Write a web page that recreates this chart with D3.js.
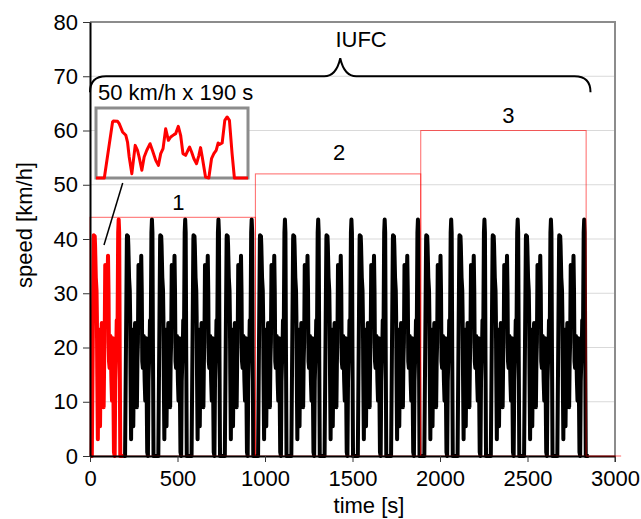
<!DOCTYPE html>
<html>
<head>
<meta charset="utf-8">
<script src="https://cdn.jsdelivr.net/npm/d3@7"></script>
<style>
  body { margin: 0; background: #fff; }
  text { font-family: "Liberation Sans", Arial, sans-serif; fill: #000; }
</style>
</head>
<body>
<svg id="chart" width="641" height="519"></svg>
<script>
// one 190 s cycle
let cycleTime  = [0, 10.4, 20.7, 21.6, 27, 29, 33.2, 37.3, 39.4, 41.5, 44.8, 49, 51.9, 53.9, 57.3,
                  60.2, 63.5, 67.6, 70.5, 74.7, 78, 80.9, 83.8, 87.1, 90.5, 93.4, 97.5, 99.6, 102.9,
                  105.8, 108.7, 112, 114.9, 117, 119.5, 122.4, 125.7, 128.6, 130.7, 132.8, 136.9, 141,
                  144.4, 147.3, 150.2, 152.7, 154.4, 157.7, 161, 163.9, 166.8, 170.1, 173, 190],
    cycleSpeed = [0, 0, 40, 40.7, 40.5, 38.8, 32.9, 30.5, 25.7, 15, 3.1, 23.3, 19.8, 15, 5.5,
                  15, 19.8, 24.5, 19.8, 12.6, 9, 17.4, 21, 35.2, 26.9, 29.3, 31, 31.7, 36.9,
                  30.5, 17.4, 16.2, 19.8, 22.1, 18.6, 13.8, 10.2, 16.2, 21.7, 15, 0.7, 0,
                  13.8, 17.4, 19.8, 25, 24, 25, 41.2, 43.6, 41.2, 17.4, 0, 0],
    cycleLength = 190,
    cycleCount = 15;

let phaseNames = ["1", "2", "3"],
    phaseStart = [0, 945, 1890],
    phaseEnd   = [945, 1890, 2835],
    phaseSpeed = [44, 52, 60],
    phaseTailEnd = 3035,
    phaseLabelTime  = [505, 1423, 2391],
    phaseLabelSpeed = [45.4, 54.6, 61.4];

let xTicks = [0, 500, 1000, 1500, 2000, 2500, 3000],
    yTicks = [0, 10, 20, 30, 40, 50, 60, 70, 80];

let braceStart = 0, braceEnd = 2860, braceLevel = 70;

let width = 641,
    height = 519,
    fontSize = 22,
    margins = {left: 90, right: 26, top: 22, bottom: 63};

let svg = d3.select("#chart");

let x = d3.scaleLinear().domain([0, 3000]).range([margins.left, width - margins.right]),
    y = d3.scaleLinear().domain([0, 80]).range([height - margins.bottom, margins.top]);

function cyclePoints(k) {
  return cycleTime.map((t, i) => [t + k * cycleLength, cycleSpeed[i]]);
}

// grid
svg.append("g")
  .selectAll("line")
  .data(yTicks.filter(d => d > 0 && d < 80)).enter()
  .append("line")
  .attr("x1", x(0)).attr("x2", x(3000))
  .attr("y1", d => y(d)).attr("y2", d => y(d))
  .attr("stroke", "#d9d9d9").attr("stroke-width", 1);

// frame top / right
svg.append("path")
  .attr("d", `M${x(0)},${y(80)}H${x(3000)}V${y(0) + 6}`)
  .attr("fill", "none").attr("stroke", "#8c8c8c").attr("stroke-width", 2);

let line = d3.line().x(d => x(d[0])).y(d => y(d[1]));

// black cycles 2..15
let black = [];
for (let k = 1; k < cycleCount; k++) black = black.concat(cyclePoints(k));
svg.append("path")
  .attr("d", line(black))
  .attr("fill", "none").attr("stroke", "#000").attr("stroke-width", 4)
  .attr("stroke-linejoin", "round");

// first cycle in red
svg.append("path")
  .attr("d", line(cyclePoints(0)))
  .attr("fill", "none").attr("stroke", "#ff0000").attr("stroke-width", 4)
  .attr("stroke-linejoin", "round");

// phase boxes
svg.append("g")
  .selectAll("rect")
  .data(phaseNames).enter()
  .append("rect")
  .attr("x", (d, i) => x(phaseStart[i]))
  .attr("y", (d, i) => y(phaseSpeed[i]))
  .attr("width", (d, i) => x(phaseEnd[i]) - x(phaseStart[i]))
  .attr("height", (d, i) => y(0) - y(phaseSpeed[i]))
  .attr("fill", "none").attr("stroke", "#ff0000").attr("stroke-opacity", 0.6);

// axes
let xAxis = svg.append("g")
  .attr("transform", `translate(0, ${y(0)})`)
  .call(d3.axisBottom(x).tickValues(xTicks).tickFormat(d3.format("d")).tickSize(6).tickSizeOuter(0));
let yAxis = svg.append("g")
  .attr("transform", `translate(${x(0)}, 0)`)
  .call(d3.axisLeft(y).tickValues(yTicks).tickFormat(d3.format("d")).tickSize(7).tickSizeOuter(0));

[xAxis, yAxis].forEach(a => {
  a.select(".domain").attr("stroke", "#000").attr("stroke-width", 2);
  a.selectAll(".tick line").attr("stroke", "#333");
  a.selectAll(".tick text").attr("font-size", fontSize).style("font-family", "Liberation Sans, Arial, sans-serif");
});
xAxis.selectAll(".tick text").attr("dy", "0.75em").attr("y", 13);
yAxis.selectAll(".tick text").attr("x", -12);

// tail of the phase line along the axis
svg.append("line")
  .attr("x1", x(phaseEnd[2])).attr("x2", x(phaseTailEnd))
  .attr("y1", y(0)).attr("y2", y(0))
  .attr("stroke", "#ff0000").attr("stroke-opacity", 0.6);

// phase labels
svg.append("g")
  .selectAll("text")
  .data(phaseNames).enter()
  .append("text")
  .attr("x", (d, i) => x(phaseLabelTime[i]))
  .attr("y", (d, i) => y(phaseLabelSpeed[i]))
  .attr("text-anchor", "middle").attr("font-size", fontSize)
  .text(d => d);

// brace
let bx0 = x(braceStart), bx1 = x(braceEnd), by = y(braceLevel),
    bm = (bx0 + bx1) / 2, r = 16, tip = 18;
svg.append("path")
  .attr("d", `M${bx0},${by + r} Q${bx0},${by} ${bx0 + r},${by} H${bm - r}` +
             ` Q${bm - 4},${by} ${bm},${by - tip} Q${bm + 4},${by} ${bm + r},${by}` +
             ` H${bx1 - r} Q${bx1},${by} ${bx1},${by + r}`)
  .attr("fill", "none").attr("stroke", "#000").attr("stroke-width", 2);

svg.append("text")
  .attr("x", x(1549)).attr("y", y(75.3))
  .attr("text-anchor", "middle").attr("font-size", fontSize)
  .text("IUFC");

svg.append("text")
  .attr("x", 98).attr("y", 100)
  .attr("font-size", fontSize)
  .text("50 km/h x 190 s");

// inset: one cycle, 50 km/h x 190 s
let ix = d3.scaleLinear().domain([0, cycleLength]).range([96, 248]),
    iy = d3.scaleLinear().domain([0, 50]).range([178, 108]);

svg.append("rect")
  .attr("x", ix(0)).attr("y", iy(50))
  .attr("width", ix(cycleLength) - ix(0)).attr("height", iy(0) - iy(50))
  .attr("fill", "#fff").attr("stroke", "#8c8c8c").attr("stroke-width", 3);

svg.append("path")
  .attr("d", d3.line().x(d => ix(d[0])).y(d => iy(d[1]))(cyclePoints(0)))
  .attr("fill", "none").attr("stroke", "#ff0000").attr("stroke-width", 3)
  .attr("stroke-linejoin", "round");

svg.append("line")
  .attr("x1", 122.7).attr("y1", 183)
  .attr("x2", 104).attr("y2", 245)
  .attr("stroke", "#000").attr("stroke-width", 1.5);

// axis titles
svg.append("text")
  .attr("x", 369).attr("y", 513)
  .attr("text-anchor", "middle").attr("font-size", fontSize)
  .text("time [s]");
svg.append("text")
  .attr("transform", `translate(32, ${225})rotate(-90)`)
  .attr("text-anchor", "middle").attr("font-size", fontSize)
  .text("speed [km/h]");
</script>
</body>
</html>
